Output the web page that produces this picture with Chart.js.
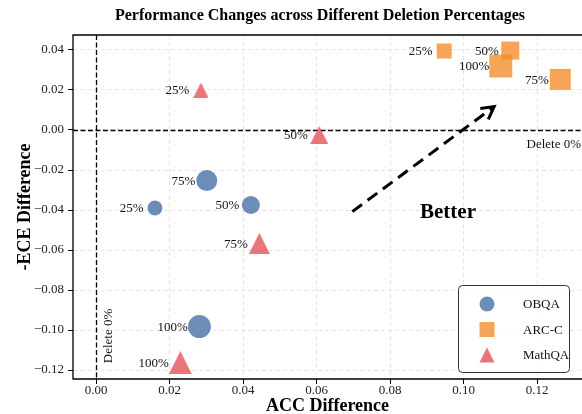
<!DOCTYPE html>
<html>
<head>
<meta charset="utf-8">
<script src="https://cdn.jsdelivr.net/npm/chart.js@4"></script>
<style>
  html, body { margin: 0; padding: 0; background: #fff; overflow: hidden; }
  #wrap { width: 582px; height: 414px; }
</style>
</head>
<body>
<div id="wrap"><canvas id="c" width="582" height="414"></canvas></div>
<script>
// Deletion percentages used as point labels
const percentLabels = ['25%', '50%', '75%', '100%'];

// OBQA: ACC difference (x) and -ECE difference (y)
const obqaAcc = [0.0160, 0.0421, 0.0301, 0.0281];
const obqaEce = [-0.0390, -0.0375, -0.0253, -0.0983];

// ARC-C
const arcAcc = [0.0947, 0.1127, 0.1263, 0.1101];
const arcEce = [0.0395, 0.0397, 0.0253, 0.0320];

// MathQA
const mathAcc = [0.0285, 0.0607, 0.0444, 0.0229];
const mathEce = [0.0200, -0.0025, -0.0567, -0.1163];

const seriesNames = ['OBQA', 'ARC-C', 'MathQA'];

// Axis ticks
const xTicks = [0, 0.02, 0.04, 0.06, 0.08, 0.10, 0.12];
const yTicks = [-0.12, -0.10, -0.08, -0.06, -0.04, -0.02, 0, 0.02, 0.04];

// "Better" direction arrow (data coordinates)
const arrowFrom = [0.0697, -0.0408];
const arrowTo = [0.1083, 0.0117];

// ---- styling ----
const SERIF = '"Liberation Serif", "Times New Roman", serif';
const markerSize = [15, 18, 21, 23];           // px, by deletion percentage
const colors = {
  OBQA: 'rgba(70,112,165,0.8)',
  'ARC-C': 'rgba(242,142,43,0.8)',
  MathQA: 'rgba(226,82,88,0.8)'
};

// upward triangle with equal width and height, centred on its box
function triangleImage(size, color) {
  const cv = document.createElement('canvas');
  cv.width = Math.ceil(size);
  cv.height = Math.ceil(size);
  const g = cv.getContext('2d');
  g.fillStyle = color;
  g.beginPath();
  g.moveTo(cv.width / 2, 0);
  g.lineTo(cv.width, cv.height);
  g.lineTo(0, cv.height);
  g.closePath();
  g.fill();
  return cv;
}

function points(xs, ys) {
  return xs.map((x, i) => ({ x: x, y: ys[i] }));
}

const datasets = [
  {
    label: 'OBQA',
    data: points(obqaAcc, obqaEce),
    pointStyle: 'circle',
    pointRadius: markerSize.map(s => s / 2),
    backgroundColor: colors.OBQA,
    borderWidth: 0
  },
  {
    label: 'ARC-C',
    data: points(arcAcc, arcEce),
    pointStyle: 'rect',
    pointRadius: markerSize.map(s => s / Math.SQRT2),
    backgroundColor: colors['ARC-C'],
    borderWidth: 0
  },
  {
    label: 'MathQA',
    data: points(mathAcc, mathEce),
    pointStyle: markerSize.map(s => triangleImage(s, colors.MathQA)),
    pointRadius: markerSize.map(s => s / 2),
    backgroundColor: colors.MathQA,
    borderWidth: 0
  }
];

function fmtTick(v) {
  const s = Math.abs(v).toFixed(2);
  return v < -1e-9 ? '\u2212' + s : s;
}

const decorations = {
  id: 'decorations',
  beforeDatasetsDraw(chart) {
    const { ctx, chartArea: a, scales: { x, y } } = chart;
    ctx.save();
    ctx.strokeStyle = '#000';
    ctx.lineWidth = 1.3;
    ctx.setLineDash([5, 2.5]);
    const y0 = Math.round(y.getPixelForValue(0)) + 0.5;
    ctx.beginPath(); ctx.moveTo(a.left, y0); ctx.lineTo(a.right, y0); ctx.stroke();
    const x0 = Math.round(x.getPixelForValue(0)) + 0.5;
    ctx.beginPath(); ctx.moveTo(x0, a.top); ctx.lineTo(x0, a.bottom); ctx.stroke();
    ctx.restore();
  },
  afterDatasetsDraw(chart) {
    const { ctx, chartArea: a, scales: { x, y } } = chart;
    ctx.save();

    // percentage labels to the left of each marker
    ctx.font = '13px ' + SERIF;
    ctx.fillStyle = '#111';
    ctx.textAlign = 'right';
    ctx.textBaseline = 'middle';
    [[obqaAcc, obqaEce], [arcAcc, arcEce], [mathAcc, mathEce]].forEach(([xs, ys]) => {
      xs.forEach((v, i) => {
        ctx.fillText(percentLabels[i], x.getPixelForValue(v) - 11.5, y.getPixelForValue(ys[i]) + 1);
      });
    });

    // reference line captions
    ctx.fillText('Delete 0%', a.right - 1, y.getPixelForValue(0) + 15);
    ctx.save();
    ctx.translate(x.getPixelForValue(0) + 12.5, a.bottom - 43);
    ctx.rotate(-Math.PI / 2);
    ctx.textAlign = 'center';
    ctx.fillText('Delete 0%', 0, 0);
    ctx.restore();

    // direction arrow
    const sx = x.getPixelForValue(arrowFrom[0]), sy = y.getPixelForValue(arrowFrom[1]);
    const ex = x.getPixelForValue(arrowTo[0]), ey = y.getPixelForValue(arrowTo[1]);
    ctx.strokeStyle = '#000';
    ctx.lineWidth = 3;
    ctx.setLineDash([12, 7]);
    ctx.beginPath(); ctx.moveTo(sx, sy); ctx.lineTo(ex, ey); ctx.stroke();
    ctx.setLineDash([]);
    const ang = Math.atan2(ey - sy, ex - sx);
    const head = 14, spread = 0.5;
    ctx.beginPath();
    ctx.moveTo(ex - head * Math.cos(ang - spread), ey - head * Math.sin(ang - spread));
    ctx.lineTo(ex, ey);
    ctx.lineTo(ex - head * Math.cos(ang + spread), ey - head * Math.sin(ang + spread));
    ctx.stroke();

    ctx.font = 'bold 21px ' + SERIF;
    ctx.fillStyle = '#000';
    ctx.textAlign = 'center';
    ctx.fillText('Better', 448, 213);

    // legend
    const lx = 458.5, ly = 285.5, lw = 111, lh = 87;
    ctx.fillStyle = 'rgba(255,255,255,0.85)';
    ctx.strokeStyle = '#333';
    ctx.lineWidth = 1;
    ctx.beginPath();
    ctx.roundRect(lx, ly, lw, lh, 4);
    ctx.fill(); ctx.stroke();
    ctx.font = '13px ' + SERIF;
    ctx.textAlign = 'left';
    ctx.fillStyle = '#111';
    seriesNames.forEach((name, i) => {
      const cy = 304 + i * 25.5, cx = 487, s = 15;
      ctx.fillStyle = colors[name];
      ctx.beginPath();
      if (i === 0) ctx.arc(cx, cy, s / 2, 0, Math.PI * 2);
      else if (i === 1) ctx.rect(cx - s / 2, cy - s / 2, s, s);
      else { ctx.moveTo(cx, cy - s / 2); ctx.lineTo(cx + s / 2, cy + s / 2); ctx.lineTo(cx - s / 2, cy + s / 2); ctx.closePath(); }
      ctx.fill();
      ctx.fillStyle = '#111';
      ctx.fillText(name, 523, cy + 1);
    });

    ctx.restore();
  },
  afterDraw(chart) {
    const { ctx, chartArea: a } = chart;
    ctx.save();
    // axes frame
    ctx.strokeStyle = '#000';
    ctx.lineWidth = 1.3;
    ctx.beginPath();
    ctx.moveTo(a.right + 2, a.top);
    ctx.lineTo(a.left, a.top);
    ctx.lineTo(a.left, a.bottom);
    ctx.lineTo(a.right + 2, a.bottom);
    ctx.stroke();
    // title
    ctx.font = 'bold 16px ' + SERIF;
    ctx.fillStyle = '#000';
    ctx.textAlign = 'center';
    ctx.textBaseline = 'middle';
    ctx.fillText('Performance Changes across Different Deletion Percentages', 320, 16);
    ctx.restore();
  }
};

const tickFont = { family: SERIF, size: 13 };
const titleFont = { family: SERIF, size: 18, weight: 'bold' };
const gridOpts = {
  color: '#e2e2e2',
  lineWidth: 0.9,
  tickColor: '#000',
  tickWidth: 1,
  tickLength: 5,
  drawTicks: true
};

function noEdgePadding(s) {
  s.paddingLeft = 0; s.paddingRight = 0; s.paddingTop = 0; s.paddingBottom = 0;
}

new Chart(document.getElementById('c'), {
  type: 'scatter',
  data: { datasets: datasets },
  plugins: [decorations],
  options: {
    responsive: false,
    animation: false,
    devicePixelRatio: 1,
    events: [],
    layout: { autoPadding: false, padding: { top: 35, left: 0, right: 0, bottom: 0 } },
    plugins: { legend: { display: false }, tooltip: { enabled: false }, title: { display: false } },
    scales: {
      x: {
        type: 'linear',
        min: -0.0063,
        max: 0.1322,
        afterBuildTicks: s => { s.ticks = xTicks.map(v => ({ value: v })); },
        afterFit: s => { s.height = 35; noEdgePadding(s); },
        ticks: { font: tickFont, color: '#222', padding: -1, callback: v => fmtTick(v), maxRotation: 0 },
        grid: gridOpts,
        border: { display: false, dash: [4, 3] },
        title: { display: true, text: 'ACC Difference', font: titleFont, color: '#000', padding: { top: 0, bottom: -3 } }
      },
      y: {
        type: 'linear',
        min: -0.1245,
        max: 0.0475,
        afterBuildTicks: s => { s.ticks = yTicks.map(v => ({ value: v })); },
        afterFit: s => { s.width = 73; noEdgePadding(s); },
        ticks: { font: tickFont, color: '#222', padding: 4, callback: v => fmtTick(v) },
        grid: gridOpts,
        border: { display: false, dash: [4, 3] },
        title: { display: true, text: '-ECE Difference', font: titleFont, color: '#000', padding: { top: 15, bottom: 0 } }
      }
    }
  }
});
</script>
</body>
</html>
